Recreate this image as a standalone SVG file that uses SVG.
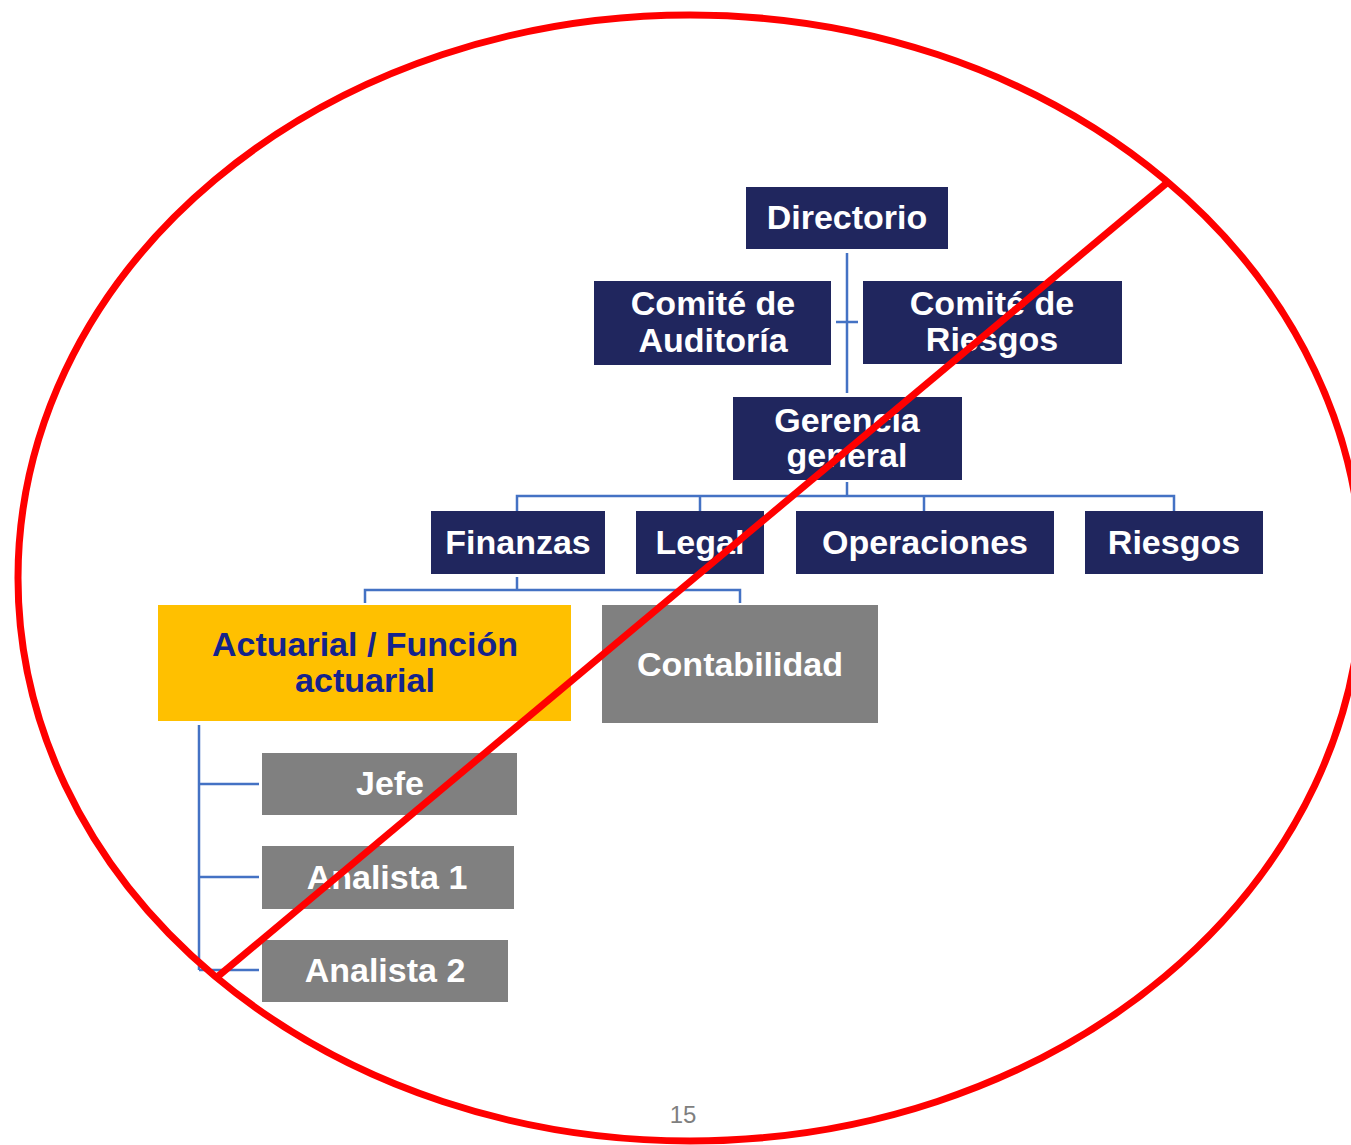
<svg xmlns="http://www.w3.org/2000/svg" width="1351" height="1145" viewBox="0 0 1351 1145">
<style>
.n{fill:#20265E}
.g{fill:#808080}
.y{fill:#FFC000}
.t{font-family:"Liberation Sans",Arial,sans-serif;font-weight:bold;font-size:34px;fill:#fff;text-anchor:middle}
.ty{fill:#14238C}
.c{stroke:#4472C4;stroke-width:2.5;fill:none}
.r{stroke:#FF0000;stroke-width:7;fill:none}
</style>
<rect width="1351" height="1145" fill="#fff"/>
<g id="connectors">
<path class="c" d="M847 253V393M836 322H858"/>
<path class="c" d="M847 482V496M517 511V496H1174V511M700 496V511M924 496V511"/>
<path class="c" d="M517 577V590M365 603V590H740V603"/>
<path class="c" d="M199 725V970M199 784H259M199 877H259M199 970H259"/>
</g>
<g id="directorio"><rect class="n" x="746" y="187" width="202" height="62"/><text class="t" x="847" y="229">Directorio</text></g>
<g id="comite-auditoria"><rect class="n" x="594" y="281" width="237" height="84"/><text class="t" x="713" y="315">Comité de</text><text class="t" x="713" y="352">Auditoría</text></g>
<g id="comite-riesgos"><rect class="n" x="863" y="281" width="259" height="83"/><text class="t" x="992" y="315">Comité de</text><text class="t" x="992" y="351">Riesgos</text></g>
<g id="gerencia"><rect class="n" x="733" y="397" width="229" height="83"/><text class="t" x="847" y="432">Gerencia</text><text class="t" x="847" y="467">general</text></g>
<g id="finanzas"><rect class="n" x="431" y="511" width="174" height="63"/><text class="t" x="518" y="554">Finanzas</text></g>
<g id="legal"><rect class="n" x="636" y="511" width="128" height="63"/><text class="t" x="700" y="554">Legal</text></g>
<g id="operaciones"><rect class="n" x="796" y="511" width="258" height="63"/><text class="t" x="925" y="554">Operaciones</text></g>
<g id="riesgos"><rect class="n" x="1085" y="511" width="178" height="63"/><text class="t" x="1174" y="554">Riesgos</text></g>
<g id="actuarial"><rect class="y" x="158" y="605" width="413" height="116"/><text class="t ty" x="365" y="656">Actuarial / Función</text><text class="t ty" x="365" y="692">actuarial</text></g>
<g id="contabilidad"><rect class="g" x="602" y="605" width="276" height="118"/><text class="t" x="740" y="676">Contabilidad</text></g>
<g id="jefe"><rect class="g" x="262" y="753" width="255" height="62"/><text class="t" x="390" y="795">Jefe</text></g>
<g id="analista1"><rect class="g" x="262" y="846" width="252" height="63"/><text class="t" x="387" y="889">Analista 1</text></g>
<g id="analista2"><rect class="g" x="262" y="940" width="246" height="62"/><text class="t" x="385" y="982">Analista 2</text></g>
<text x="683" y="1123" font-family="'Liberation Sans',Arial,sans-serif" font-size="24" fill="#7F7F7F" text-anchor="middle">15</text>
<g id="cross-out">
<ellipse class="r" cx="690" cy="578" rx="672" ry="563"/>
<path class="r" stroke-width="8" d="M1168 182L216 978"/>
</g>
</svg>
